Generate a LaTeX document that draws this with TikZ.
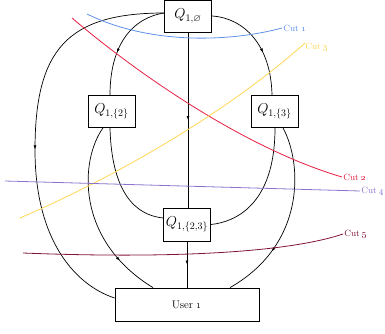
\documentclass[tikz,border=0pt]{standalone}
\usepackage{amssymb}
\usetikzlibrary{arrows.meta,decorations.markings,calc}
\definecolor{cutA}{RGB}{95,145,235}
\definecolor{cutB}{RGB}{230,30,65}
\definecolor{cutC}{RGB}{255,215,85}
\definecolor{cutD}{RGB}{140,115,205}
\definecolor{cutE}{RGB}{130,20,60}
\begin{document}
\begin{tikzpicture}[x=1pt,y=1pt,
  qbox/.style={draw, line width=0.8pt, minimum width=47pt, minimum height=32pt, inner sep=0pt, font=\fontsize{14}{16}\selectfont},
  userbox/.style={draw, line width=0.8pt, minimum width=144pt, minimum height=33pt, inner sep=0pt, font=\fontsize{11}{13}\selectfont},
  edge/.style={line width=0.7pt},
  midarrow/.style={postaction={decorate}, decoration={markings, mark=at position #1 with {\arrow{Latex[length=4pt,width=3pt]}}}},
  cutline/.style={line width=0.8pt},
  cutlabel/.style={right, inner sep=1pt, font=\small}
]
\useasboundingbox (0,0) rectangle (385,333);

% nodes
\node[qbox] (q0) at (188,317) {$Q_{1,\varnothing}$};
\node[qbox] (q2) at (111.5,221.5) {$Q_{1,\{2\}}$};
\node[qbox] (q3) at (274.5,221.5) {$Q_{1,\{3\}}$};
\node[qbox, minimum height=33pt] (q23) at (187,108.5) {$Q_{1,\{2,3\}}$};
\node[userbox] (user) at (187,28.5) {User \oldstylenums{1}};

% connectors
\draw[edge, midarrow=0.55] ($(q0.west)+(0,3)$) .. controls (67,320) and (35,283) .. (35,183)
      .. controls (35,93) and (75,48) .. ($(user.west)+(0,6.5)$);
\draw[edge, midarrow=0.6] ($(q0.west)+(0,3)$) .. controls (132,315) and (110,288) .. ($(q2.north)+(-1.5,0)$);
\draw[edge, midarrow=0.6] (q0.east) .. controls (244,315) and (271,288) .. ($(q3.north)+(-2.5,0)$);
\draw[edge, midarrow=0.5] (q0.south) -- (q0.south |- q23.north);
\draw[edge, midarrow=0.5] (q23.south) -- (q23.south |- user.north);
\draw[edge, midarrow=0.77] ($(q2.south)+(-8.5,0)$) .. controls (80,173) and (75,93) .. ($(user.north)+(-34,0)$);
\draw[edge] ($(q2.south)+(-1.5,0)$) .. controls (112,128) and (145,117) .. ($(q23.west)+(0,6.5)$);
\draw[edge] ($(q3.south)+(0.5,0)$) .. controls (275,128) and (235,111) .. (q23.east);
\draw[edge, midarrow=0.7] ($(q3.south)+(8.5,0)$) .. controls (303,168) and (305,88) .. ($(user.north)+(43,0)$);

% cuts
\draw[cutline, cutA] (87,319) .. controls (150,288) and (230,291) .. (282,305)
      node[cutlabel, text=cutA] {Cut \oldstylenums{1}};
\draw[cutline, cutB] (72,315) .. controls (145,253) and (250,183) .. (342,156)
      node[cutlabel, text=cutB] {Cut \oldstylenums{2}};
\draw[cutline, cutC] (20,115) .. controls (120,158) and (230,223) .. (305,290)
      node[cutlabel, text=cutC, below right, inner sep=0pt] {Cut \oldstylenums{3}};
\draw[cutline, cutD] (5,152) -- (360,142)
      node[cutlabel, text=cutD] {Cut \oldstylenums{4}};
\draw[cutline, cutE] (23,80) .. controls (150,75) and (280,78) .. (343,99)
      node[cutlabel, text=cutE] {Cut \oldstylenums{5}};
\end{tikzpicture}
\end{document}
